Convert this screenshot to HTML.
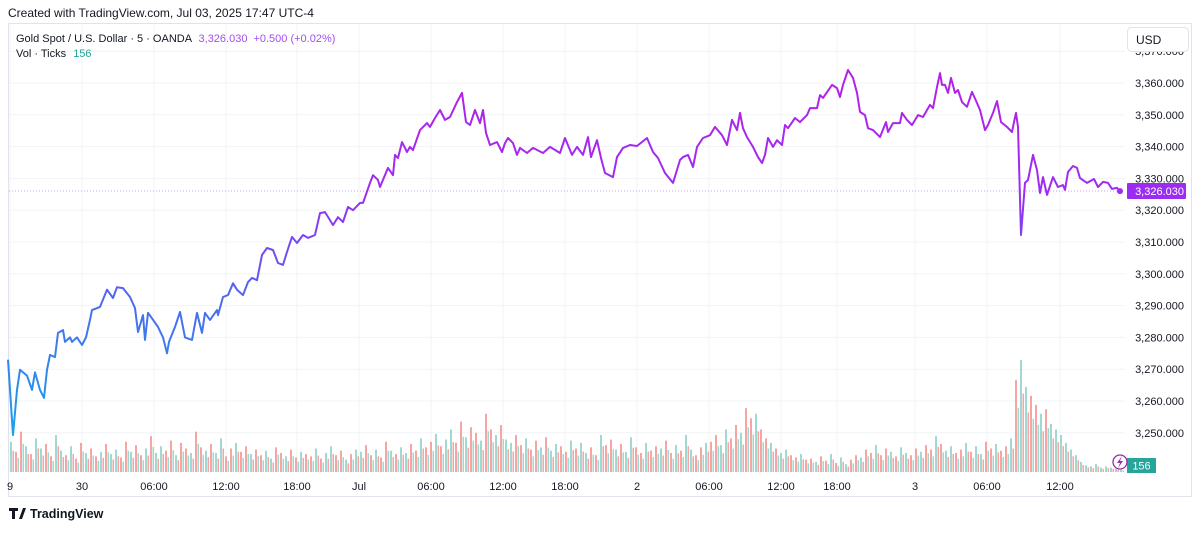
<!DOCTYPE html>
<html><head><meta charset="utf-8">
<style>
body{margin:0;background:#fff;width:1200px;height:529px;overflow:hidden;font-family:"Liberation Sans",sans-serif;}
svg text{font-family:"Liberation Sans",sans-serif;}
</style></head>
<body>
<svg id="c" width="1200" height="529" xmlns="http://www.w3.org/2000/svg">
<defs>
<linearGradient id="pg" gradientUnits="userSpaceOnUse" x1="0" y1="60" x2="0" y2="440">
<stop offset="0" stop-color="#b81fe6"/>
<stop offset="0.35" stop-color="#9c2cf2"/>
<stop offset="0.65" stop-color="#4a6cf0"/>
<stop offset="1" stop-color="#16a3e8"/>
</linearGradient>
</defs>
<text x="8" y="17" font-size="12" fill="#131722">Created with TradingView.com, Jul 03, 2025 17:47 UTC-4</text>
<rect x="8.5" y="23.5" width="1183" height="473" fill="none" stroke="#e0e3eb"/>
<g id="grid"></g>
<g id="vol"></g>
<g id="price"></g>
<g id="axis"></g>
<text x="16" y="42" font-size="11" fill="#131722">Gold Spot / U.S. Dollar · 5 · OANDA <tspan fill="#a24ff0" dx="4">3,326.030</tspan><tspan fill="#a24ff0" dx="6">+0.500 (+0.02%)</tspan></text>
<text x="16" y="57" font-size="11" fill="#131722">Vol · Ticks <tspan fill="#26a69a" dx="4">156</tspan></text>
<rect x="1127.5" y="27.5" width="61" height="24" rx="4" fill="#fff" stroke="#e0e3eb"/>
<text x="1136" y="44" font-size="12" fill="#131722">USD</text>
<g>
<path d="M9 508h9v3h-3v8h-3v-8h-3z M19 519l4-11h3l-4 11z" fill="#131722"/>
<text x="30" y="518" font-size="12.5" font-weight="bold" fill="#131722">TradingView</text>
</g>
</svg>
<script>
const priceBars = [0,5,9,12,19,24,27,32,36,39,42,47,50,55,57,62,64,69,74,78,82,84,92,99,105,109,115,122,127,130,135,137,140,144,150,155,159,161,167,172,177,184,189,194,197,202,209,210,215,220,225,229,235,240,244,249,254,259,265,270,275,279,284,289,295,300,307,312,317,322,325,330,335,340,345,352,355,362,365,370,372,380,385,387,390,394,399,402,405,412,419,422,427,432,437,442,449,454,458,462,467,472,475,478,482,489,494,497,500,505,509,512,519,525,535,542,552,557,564,569,575,580,583,589,593,597,605,609,615,622,629,639,645,650,657,665,672,675,680,685,689,695,702,707,714,719,724,729,732,735,739,745,750,754,757,760,765,769,774,777,780,787,792,799,802,809,812,815,824,829,832,835,840,845,849,852,857,860,865,872,878,880,885,892,894,899,904,910,915,922,925,929,932,934,937,940,943,947,950,954,959,964,969,972,977,980,985,989,993,999,1004,1006,1008,1010,1013,1017,1020,1025,1029,1032,1035,1039,1045,1050,1055,1057,1060,1065,1069,1072,1079,1086,1090,1095,1100,1104,1109,1112];
const priceVals = [3273,3249.3,3263.5,3269.8,3268,3263.5,3269,3263.5,3261,3269.8,3274.5,3273.8,3281.4,3282.3,3278.6,3280,3278.6,3280,3277.6,3280,3285.5,3288.6,3289.6,3295,3292.4,3295.8,3295.5,3292.7,3289.2,3281.7,3287,3279.2,3287.7,3286,3283.3,3280,3275,3278.6,3283.3,3288,3280,3279.2,3287.7,3281.4,3287.7,3285.5,3288.6,3287,3292.7,3293.3,3297,3295,3293.3,3297.4,3298.7,3298,3305.9,3308.1,3307.5,3303.4,3302.8,3306.9,3311.6,3309.7,3312.2,3311.3,3312.2,3319.1,3319.4,3316.9,3315.3,3317.8,3316.3,3321,3320,3322.3,3322.3,3328.6,3331,3329.5,3327.3,3333.3,3331,3337.4,3336.4,3341.4,3338.3,3339.9,3338.9,3345.2,3347.4,3346.2,3349,3351.5,3348.4,3349.3,3354,3356.9,3347.7,3346.8,3351.5,3347.4,3351.5,3344.3,3340.5,3341.4,3338.3,3341.1,3342.7,3341.1,3337.4,3339.6,3338,3339.6,3338,3339.9,3338,3342.7,3337.4,3339.9,3337.4,3343,3336.7,3342,3336.4,3331.7,3330.4,3336.7,3339.6,3340.5,3340.2,3342.7,3338.3,3336.4,3331.7,3328.6,3335.8,3336.7,3337.4,3333.6,3339.9,3342.7,3343.6,3346.2,3343.6,3340.5,3348.4,3345.2,3350.6,3345.8,3343,3339.9,3336.7,3334.8,3337.4,3342.7,3339.9,3342,3340.5,3346.8,3345.8,3349,3347.7,3349.9,3352.1,3352.1,3356.2,3355.3,3359.4,3358.4,3355.6,3359.4,3364.1,3361.6,3356.9,3350.9,3349.9,3345.8,3345.2,3343,3347.7,3344.6,3347.4,3347.4,3350.6,3348.4,3346.8,3349.9,3349.3,3353.1,3352.1,3358.7,3363.1,3359.4,3359.4,3356.9,3361.6,3356.9,3357.8,3354,3352.5,3357.2,3353.7,3351.5,3345.2,3346.8,3350.6,3354.3,3347.7,3346.2,3344.6,3347.7,3350.6,3346.2,3312.2,3328.6,3329.5,3337.4,3332.6,3325.4,3330.4,3324.8,3330.4,3327.3,3327.9,3326.4,3332,3333.9,3333.3,3330.1,3328.6,3329.8,3327.3,3328.9,3328.6,3326.7,3327,3326];
const volVals = [270,180,360,230,160,300,210,250,140,330,190,150,230,120,260,170,210,140,180,250,160,200,130,270,180,240,150,210,320,170,230,190,280,150,260,210,170,360,220,190,250,170,300,140,210,260,180,230,160,200,150,190,120,220,170,140,200,130,180,160,140,210,120,170,230,150,190,110,160,200,180,240,150,200,130,270,190,160,220,170,250,190,300,220,270,340,230,290,380,260,450,310,400,350,280,520,380,330,420,290,260,330,240,300,200,280,220,310,190,250,230,180,280,210,260,170,220,150,330,240,290,200,250,180,310,220,170,260,190,230,210,280,170,240,190,330,200,150,220,260,270,330,240,380,300,420,350,570,480,520,380,300,260,210,170,200,150,130,160,110,120,90,140,100,160,80,130,70,110,150,130,200,170,240,150,210,180,140,220,170,150,210,180,240,200,320,250,190,230,170,200,260,180,230,160,270,210,250,190,230,300,820,1000,760,680,600,520,560,430,380,330,260,200,150,90,60,50,70,40,50,40,30,20];
const volDir = "udduduudduududdudduduuddudduduudduddudduduudduddudduudduddudduduudduduuddudduduuddudduduudduddudduduuddudduduudduduuddudduduudduddudduduuddudduudduddudduduudduddudduduudduddudduduuddudduduudduduuddudduduudduduu";
const yTicks = [3250,3260,3270,3280,3290,3300,3310,3320,3330,3340,3350,3360,3370];
const timeLabels = ["9","30","06:00","12:00","18:00","Jul","06:00","12:00","18:00","2","06:00","12:00","18:00","3","06:00","12:00"];
const timeBars = [2,74,146,218,289,351,423,495,557,629,701,773,829,907,979,1052];
const lastPrice = 3326.03;
const lastVol = 156;

const NS="http://www.w3.org/2000/svg";
const X0=8, PLOT_R=1125;
const xs = i => X0 + i;
const ys = p => 83 + (3360 - p) * 3.18;
const VB=472, vs = v => v/1000*112;
function mk(tag, parent){const e=document.createElementNS(NS,tag);parent.appendChild(e);return e;}

const grid=document.getElementById('grid');
yTicks.forEach(t=>{
  const l=mk('line',grid);
  
  
  l.setAttribute('x1',9);l.setAttribute('x2',PLOT_R);l.setAttribute('y1',ys(t));l.setAttribute('y2',ys(t));
  l.setAttribute('stroke','#f2f3f6');
});
timeBars.forEach(b=>{
  const l=mk('line',grid);
  
  
  l.setAttribute('x1',xs(b));l.setAttribute('x2',xs(b));l.setAttribute('y1',24);l.setAttribute('y2',472);
  l.setAttribute('stroke','#f2f3f6');
});

const vol=document.getElementById('vol');
volVals.forEach((v,i)=>{
  const r=mk('rect',vol);
  
  
  const x=xs(2+i*5);
  r.setAttribute('x',x);r.setAttribute('width',2);
  r.setAttribute('y',VB-vs(v));r.setAttribute('height',vs(v));
  r.setAttribute('fill',volDir[i]==='d'?'#f7a5a3':'#9fd9d1');
  const r2=mk('rect',vol);
  
  
  const v2=v*0.7;
  r2.setAttribute('x',x+2.5);r2.setAttribute('width',1.5);
  r2.setAttribute('y',VB-vs(v2));r2.setAttribute('height',vs(v2));
  r2.setAttribute('fill',volDir[i]==='d'?'#9fd9d1':'#f7a5a3');
});

const pg=document.getElementById('price');
const dl=mk('line',pg);


dl.setAttribute('x1',9);dl.setAttribute('x2',PLOT_R);dl.setAttribute('y1',ys(lastPrice));dl.setAttribute('y2',ys(lastPrice));
dl.setAttribute('stroke','#c9a0f5');dl.setAttribute('stroke-dasharray','1 2');
const path=mk('path',pg);


path.setAttribute('d',priceVals.map((p,i)=>(i?'L':'M')+xs(priceBars[i])+' '+ys(p).toFixed(1)).join(' '));
path.setAttribute('fill','none');path.setAttribute('stroke','url(#pg)');path.setAttribute('stroke-width',2);path.setAttribute('stroke-linejoin','round');
const dot=mk('circle',pg);


dot.setAttribute('cx',xs(priceBars[priceBars.length-1]));dot.setAttribute('cy',ys(priceVals[priceVals.length-1]));dot.setAttribute('r',3);dot.setAttribute('fill','#9c2cf2');

const ax=document.getElementById('axis');
yTicks.forEach(t=>{
  const tx=mk('text',ax);
  
  
  tx.setAttribute('x',1184);tx.setAttribute('y',ys(t)+4);tx.setAttribute('text-anchor','end');
  tx.setAttribute('font-size','11');tx.setAttribute('fill','#131722');
  tx.textContent=t.toLocaleString('en-US')+'.000';
});
timeLabels.forEach((s,i)=>{
  const tx=mk('text',ax);
  
  
  tx.setAttribute('x',xs(timeBars[i]));tx.setAttribute('y',490);tx.setAttribute('text-anchor','middle');
  tx.setAttribute('font-size','11');tx.setAttribute('fill','#131722');
  tx.textContent=s;
});
const pb=mk('rect',ax);


pb.setAttribute('x',1127);pb.setAttribute('y',ys(lastPrice)-8);pb.setAttribute('width',59);pb.setAttribute('height',16);pb.setAttribute('fill','#9c2cf2');pb.setAttribute('rx',1);
const pt=mk('text',ax);


pt.setAttribute('x',1184);pt.setAttribute('y',ys(lastPrice)+4);pt.setAttribute('text-anchor','end');pt.setAttribute('font-size','11');pt.setAttribute('fill','#fff');
pt.textContent=lastPrice.toLocaleString('en-US',{minimumFractionDigits:3});
const vb=mk('rect',ax);


vb.setAttribute('x',1127);vb.setAttribute('y',458);vb.setAttribute('width',29);vb.setAttribute('height',15);vb.setAttribute('fill','#26a69a');
const vt=mk('text',ax);


vt.setAttribute('x',1141.5);vt.setAttribute('y',469.5);vt.setAttribute('text-anchor','middle');vt.setAttribute('font-size','11');vt.setAttribute('fill','#fff');
vt.textContent=lastVol;
const ic=mk('circle',ax);


ic.setAttribute('cx',1120);ic.setAttribute('cy',462);ic.setAttribute('r',7);ic.setAttribute('fill','#fff');ic.setAttribute('stroke','#9c27b0');ic.setAttribute('stroke-width',1.3);
const bolt=mk('path',ax);


bolt.setAttribute('d','M1122 456 L1117 463 L1120 463 L1118 468 L1123 461 L1120 461 Z');bolt.setAttribute('fill','#9c27b0');
</script>
</body></html>
